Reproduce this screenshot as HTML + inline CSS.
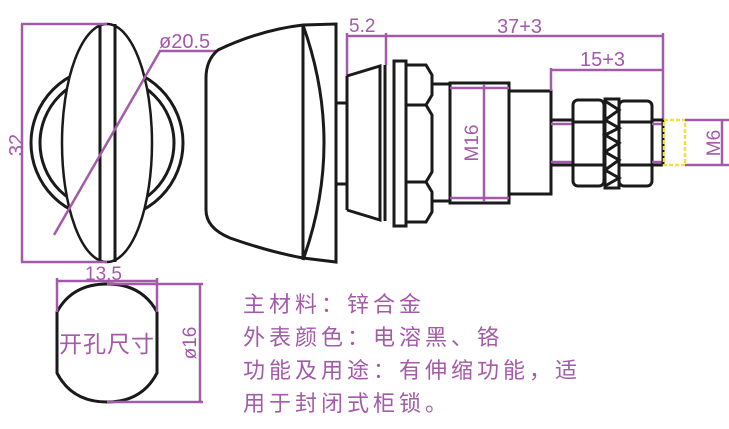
<!DOCTYPE html>
<html><head><meta charset="utf-8"><style>
html,body{margin:0;padding:0;background:#fff;}
svg{display:block;}
.p{stroke:#a35aa8;stroke-width:2.5;fill:none}
.k{stroke:#1a1a1a;stroke-width:3;fill:none}
.w{stroke:#1a1a1a;stroke-width:2.5;fill:#fff}
.t{fill:#a35aa8;font-family:"Liberation Sans",sans-serif;}
.c{fill:#a35aa8;font-family:"Liberation Sans","Noto Sans CJK SC",sans-serif;font-size:22px;letter-spacing:4px;}
</style></head><body>
<svg width="729" height="429" viewBox="0 0 729 429" xmlns="http://www.w3.org/2000/svg">
<circle cx="107" cy="143" r="76" class="k" stroke-width="2.5"/>
<circle cx="107" cy="143" r="67" class="k" stroke-width="2.5"/>
<ellipse cx="107" cy="143" rx="45" ry="119" class="w"/>
<line x1="100" y1="24" x2="100" y2="262" class="k"/>
<line x1="115" y1="24" x2="115" y2="262" class="k"/>
<line x1="21" y1="24" x2="107" y2="24" class="p"/>
<line x1="21" y1="262" x2="107" y2="262" class="p"/>
<line x1="22" y1="24" x2="22" y2="262" class="p"/>
<text class="t" font-size="20" transform="translate(23,145) rotate(-90)" text-anchor="middle">32</text>
<polyline points="54,235 160,51 218,51" class="p"/>
<text class="t" font-size="20" x="159" y="48">ø20.5</text>
<path d="M218,50 Q206,60 206,78 L206,210 Q206,228 230,238 Q270,252 303,258 L336,262 L336,24 L303,25 Q260,30 218,50 Z" class="k" stroke-width="2.5"/>
<line x1="303" y1="25" x2="303" y2="260" class="k"/>
<path d="M303,25 Q345,143 303,260" class="k" stroke-width="2"/>
<rect x="336" y="103" width="11" height="81" class="k" stroke-width="2.5"/>
<line x1="347" y1="76" x2="347" y2="210" class="k"/>
<line x1="347" y1="33" x2="347" y2="76" class="p"/>
<line x1="386" y1="33" x2="386" y2="65" class="p"/>
<line x1="347" y1="36" x2="386" y2="36" class="p"/>
<text class="t" font-size="19" x="349" y="32">5.2</text>
<line x1="386" y1="36" x2="663" y2="36" class="p"/>
<line x1="663" y1="33" x2="663" y2="122" class="p"/>
<text class="t" font-size="20" x="497" y="33">37+3</text>
<path d="M347,76 L380,66 L380,220 L347,210" class="k" stroke-width="2.5"/>
<line x1="385" y1="65" x2="385" y2="221" class="k" stroke-width="2"/>
<rect x="394" y="61" width="12" height="165" class="k"/>
<path d="M406,65 L426,65 L432,75 L432,95 L426,105 L432,115 L432,172 L426,182 L432,192 L432,212 L426,222 L406,222 Z" class="k"/>
<line x1="406" y1="105" x2="426" y2="105" class="k"/>
<line x1="406" y1="182" x2="426" y2="182" class="k"/>
<line x1="432" y1="84" x2="450" y2="84" class="k"/>
<line x1="432" y1="201" x2="450" y2="201" class="k"/>
<rect x="450" y="83" width="59" height="120" class="k"/>
<line x1="450" y1="88" x2="509" y2="88" class="p"/>
<line x1="450" y1="198" x2="509" y2="198" class="p"/>
<line x1="484" y1="84" x2="484" y2="202" class="p"/>
<text class="t" font-size="19" transform="translate(484,143) rotate(-90)" text-anchor="middle" dy="-6">M16</text>
<rect x="509" y="91" width="42" height="103" class="k"/>
<line x1="551" y1="68" x2="551" y2="91" class="p"/>
<line x1="551" y1="70" x2="663" y2="70" class="p"/>
<text class="t" font-size="20" x="580" y="66">15+3</text>
<line x1="551" y1="120" x2="573" y2="120" class="k"/>
<line x1="551" y1="165" x2="573" y2="165" class="k"/>
<line x1="551" y1="124" x2="573" y2="124" class="p"/>
<line x1="551" y1="162" x2="573" y2="162" class="p"/>
<rect x="573" y="100" width="31" height="86" rx="5" class="k"/>
<line x1="573" y1="122" x2="604" y2="122" class="k"/>
<line x1="573" y1="165" x2="604" y2="165" class="k"/>
<rect x="605" y="99" width="14" height="89" class="k"/>
<path d="M605,101 L619,110 L605,120 L619,128 L605,135 L619,143 L605,152 L619,160 L605,170 L619,178 L605,186" class="k" stroke-width="2"/>
<rect x="619" y="101" width="33" height="85" rx="5" class="k"/>
<line x1="619" y1="122" x2="652" y2="122" class="k"/>
<line x1="619" y1="165" x2="652" y2="165" class="k"/>
<line x1="652" y1="120" x2="663" y2="120" class="k"/>
<line x1="652" y1="165" x2="663" y2="165" class="k"/>
<line x1="652" y1="124" x2="663" y2="124" class="p"/>
<line x1="652" y1="162" x2="663" y2="162" class="p"/>
<line x1="663" y1="120" x2="663" y2="165" class="k"/>
<rect x="664" y="120" width="21" height="45" fill="none" stroke="#f0e040" stroke-width="2.5" stroke-dasharray="4,2"/>
<line x1="685" y1="120" x2="729" y2="120" class="p"/>
<line x1="685" y1="165" x2="729" y2="165" class="p"/>
<line x1="722" y1="120" x2="722" y2="165" class="p"/>
<text class="t" font-size="19" transform="translate(720,143) rotate(-90)" text-anchor="middle">M6</text>
<path d="M57,312 Q72,284 107,284 Q142,284 157,312 L157,373 Q142,402 107,402 Q72,402 57,373 Z" class="k" stroke-width="2.5"/>
<line x1="57" y1="278" x2="57" y2="312" class="p"/>
<line x1="157" y1="278" x2="157" y2="312" class="p"/>
<line x1="57" y1="281" x2="157" y2="281" class="p"/>
<text class="t" font-size="19" x="85" y="280">13.5</text>
<line x1="107" y1="284" x2="203" y2="284" class="p"/>
<line x1="107" y1="402" x2="203" y2="402" class="p"/>
<line x1="200" y1="284" x2="200" y2="402" class="p"/>
<text class="t" font-size="19" transform="translate(200,343) rotate(-90)" text-anchor="middle" dy="-4">ø16</text>
<text class="c" x="59" y="352" style="font-size:23px;letter-spacing:1px">开孔尺寸</text>
<text class="c" x="243" y="312">主材料：锌合金</text>
<text class="c" x="243" y="345">外表颜色：电溶黑、铬</text>
<text class="c" x="243" y="378">功能及用途：有伸缩功能，适</text>
<text class="c" x="243" y="411">用于封闭式柜锁。</text>
</svg>
</body></html>
